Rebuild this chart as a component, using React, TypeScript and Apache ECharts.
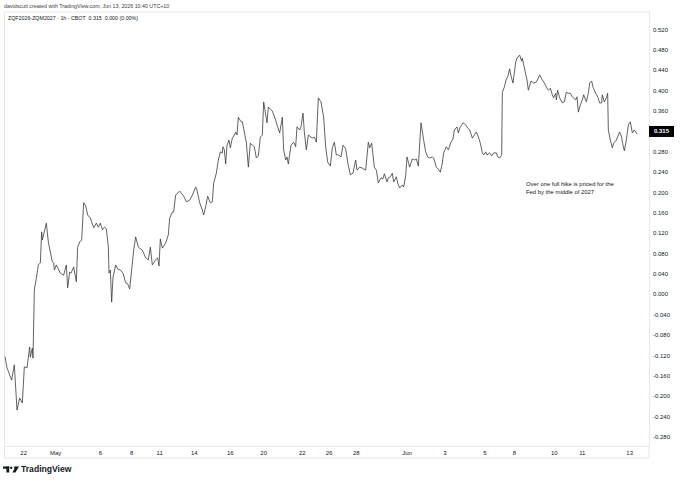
import React, { useEffect, useRef } from "react";
import * as echarts from "echarts";

// hourly bar index (trading hours, gaps removed) and the ZQF2026-ZQM2027 spread
const hourIndex = [
  0, 3, 10, 14, 18, 22, 26, 29, 33, 37, 38, 41, 42, 44, 47, 50, 53, 55, 56, 62, 65, 71, 73, 74, 77, 83, 88, 92, 94, 97,
  99, 103, 107, 109, 112, 115, 118, 121, 124, 128, 133, 137, 140, 143, 146, 149, 152, 155, 156, 158, 160, 162, 166, 169, 173, 177, 181, 184, 187,
  190, 193, 196, 200, 206, 211, 215, 218, 221, 226, 229, 231, 233, 236, 241, 245, 247, 251, 253, 256, 262, 268, 272, 277, 281, 286, 288, 292, 296, 298,
  301, 304, 308, 311, 313, 317, 320, 323, 326, 327, 329, 331, 333, 336, 338, 341, 344, 346, 348, 350, 354, 356, 359, 362, 365, 368, 371, 374, 377, 380, 383, 386, 388,
  393, 395, 401, 406, 409, 412, 416, 418, 421, 423, 425, 429, 433, 436, 438, 442, 444, 447, 449, 452, 455, 461, 464, 467, 470, 474, 478, 481, 484, 488,
  491, 494, 497, 500, 504, 507, 511, 514, 518, 522, 526, 528, 532, 536, 541, 545, 547, 550, 552, 554, 557, 560, 564, 567, 569, 573, 575, 578, 581, 583,
  587, 589, 592, 596, 598, 601, 603, 607, 611, 614, 617, 620, 624, 628, 631, 634, 637, 641, 643, 647, 650, 653, 656, 658, 662, 665, 669, 672, 674, 678,
  680, 683, 687, 691, 694, 697, 701, 704, 707, 710, 713, 716, 718, 721, 723, 727, 730, 733, 737, 739, 742, 745, 746, 749, 752, 754, 757, 759, 762, 766,
  768, 772, 775, 776, 779, 783, 785, 789, 793, 797, 800, 802, 806, 809, 813, 815, 818, 821, 823, 826, 827, 829, 832, 836, 839, 842, 845, 848, 851, 856,
  858, 860, 863, 866, 868, 872, 875, 877, 880, 882, 886, 889, 892, 895, 896, 899, 902, 904, 905, 908, 911, 913, 917, 920, 922, 925, 926, 929, 932, 935,
  938, 941, 944, 948,
];

const spread = [
  -0.122, -0.144, -0.168, -0.138, -0.227, -0.203, -0.213, -0.142, -0.144, -0.103, -0.123, -0.105, -0.125, 0.009, 0.032, 0.058, 0.062, 0.123, 0.107, 0.14,
  0.103, 0.064, 0.062, 0.048, 0.058, 0.042, 0.038, 0.058, 0.013, 0.044, 0.042, 0.054, 0.025, 0.093, 0.103, 0.107, 0.18, 0.174, 0.156, 0.15,
  0.131, 0.14, 0.132, 0.14, 0.127, 0.132, 0.129, 0.093, 0.042, 0.048, -0.015, 0.034, 0.058, 0.05, 0.048, 0.042, 0.023, 0.021, 0.011,
  0.048, 0.087, 0.113, 0.093, 0.087, 0.072, 0.068, 0.093, 0.058, 0.068, 0.072, 0.056, 0.109, 0.091, 0.101, 0.117, 0.15, 0.162, 0.162, 0.195,
  0.203, 0.193, 0.182, 0.185, 0.195, 0.211, 0.205, 0.18, 0.166, 0.156, 0.172, 0.193, 0.18, 0.182, 0.219, 0.238, 0.264, 0.28, 0.278, 0.29,
  0.284, 0.256, 0.293, 0.303, 0.288, 0.307, 0.313, 0.319, 0.313, 0.348, 0.339, 0.339, 0.319, 0.299, 0.25, 0.297, 0.293, 0.29, 0.268, 0.272,
  0.309, 0.313, 0.378,
  0.337, 0.368, 0.36, 0.342, 0.329, 0.317, 0.348, 0.284, 0.264, 0.27, 0.256, 0.293, 0.299, 0.29, 0.329, 0.323, 0.329, 0.356, 0.319, 0.284,
  0.313, 0.307, 0.309, 0.299, 0.386, 0.378, 0.348, 0.29, 0.26, 0.252, 0.288, 0.299, 0.274, 0.274, 0.27, 0.293, 0.286, 0.26, 0.235, 0.238,
  0.264, 0.244, 0.25, 0.248, 0.244, 0.299, 0.288, 0.297, 0.274, 0.25, 0.244, 0.219, 0.229, 0.227, 0.237, 0.221, 0.229, 0.231, 0.238, 0.221,
  0.231, 0.219, 0.209, 0.215, 0.211, 0.233, 0.27, 0.25, 0.266, 0.264, 0.266, 0.252, 0.337, 0.303, 0.28, 0.27, 0.268, 0.27, 0.268, 0.25,
  0.246, 0.24, 0.258, 0.278, 0.29, 0.284, 0.299, 0.305, 0.323, 0.329, 0.317, 0.329, 0.337, 0.333, 0.327, 0.323, 0.307, 0.313, 0.319, 0.309,
  0.297, 0.278, 0.274, 0.28, 0.274, 0.278, 0.272, 0.278, 0.278, 0.27, 0.268, 0.274, 0.397, 0.407, 0.423, 0.427, 0.443, 0.429, 0.415, 0.456,
  0.464, 0.47, 0.458, 0.464, 0.445, 0.421, 0.401, 0.419, 0.415, 0.417, 0.425, 0.431, 0.421, 0.415, 0.405, 0.401, 0.405, 0.392, 0.386, 0.395,
  0.382, 0.401, 0.386, 0.376, 0.378, 0.397, 0.395, 0.395, 0.388, 0.382, 0.388, 0.358, 0.372, 0.382, 0.392, 0.378, 0.395, 0.415, 0.419, 0.407,
  0.395, 0.388, 0.376, 0.376, 0.392, 0.378, 0.386, 0.395, 0.323, 0.303, 0.288, 0.297, 0.303, 0.313, 0.319, 0.309, 0.299, 0.282, 0.303, 0.333,
  0.339, 0.317, 0.323, 0.315,
];

const xTickHours = [28, 76, 143, 190, 232, 284, 338, 388, 446, 486, 527, 603, 660, 720, 764, 824, 866, 937];
const xTickLabels = ["22", "May", "6", "8", "11", "14", "16", "20", "22", "26", "28", "Jun", "3", "5", "8", "10", "11", "13"];

const yTickValues = [
  -0.28, -0.24, -0.2, -0.16, -0.12, -0.08, -0.04, 0, 0.04, 0.08, 0.12, 0.16, 0.2, 0.24, 0.28, 0.36, 0.4, 0.44, 0.48, 0.52,
];

const headerLine1 = "davidscutt created with TradingView.com, Jun 13, 2026 10:40 UTC+10";
const headerLine2 = "ZQF2026-ZQM2027 · 1h · CBOT  0.315  0.000 (0.00%)";
const noteLines = ["Over one full hike is priced for the", "Fed by the middle of 2027"];

const FONT = "'Liberation Sans', Arial, sans-serif";
const TEXT = "#131722";
const BORDER = "#e6e8ec";

export default function App() {
  const ref = useRef<HTMLDivElement>(null);

  useEffect(() => {
    document.body.style.margin = "0";
    if (!ref.current) return;
    const chart = echarts.init(ref.current, null, { renderer: "svg" });
    const last = spread[spread.length - 1];
    const data = hourIndex.map((h, i) => [h, spread[i]]);

    chart.setOption({
      animation: false,
      backgroundColor: "#ffffff",
      grid: { left: 5, right: 31, top: 12, bottom: 38, containLabel: false },
      xAxis: {
        type: "value",
        min: 0,
        max: 966,
        axisLine: { show: true, onZero: false, lineStyle: { color: BORDER, width: 1 } },
        axisTick: { show: false },
        splitLine: { show: false },
        axisLabel: {
          customValues: xTickHours,
          formatter: (v: number) => {
            const i = xTickHours.indexOf(v);
            return i >= 0 ? xTickLabels[i] : "";
          },
          color: TEXT,
          fontSize: 6,
          fontFamily: FONT,
          margin: 4,
        },
      },
      yAxis: {
        type: "value",
        position: "right",
        min: -0.2974,
        max: 0.5545,
        axisLine: { show: true, onZero: false, lineStyle: { color: BORDER, width: 1 } },
        axisTick: { show: false },
        splitLine: { show: false },
        axisLabel: {
          customValues: yTickValues,
          formatter: (v: number) => v.toFixed(3),
          color: TEXT,
          fontSize: 6,
          fontFamily: FONT,
          margin: 4,
        },
      },
      series: [
        {
          type: "line",
          data,
          symbol: "none",
          lineStyle: { color: "#3a3a3a", width: 0.8 },
          markLine: {
            silent: true,
            symbol: "none",
            lineStyle: { color: "rgba(0,0,0,0)", width: 0 },
            data: [{ yAxis: last }],
            label: {
              show: true,
              position: "end",
              distance: 0,
              formatter: () => last.toFixed(3),
              backgroundColor: "#000000",
              color: "#ffffff",
              fontSize: 6,
              fontWeight: "bold",
              fontFamily: FONT,
              padding: [3, 5, 2, 5],
            },
          },
        },
      ],
      graphic: [
        { type: "line", shape: { x1: 5, y1: 12, x2: 649, y2: 12 }, style: { stroke: BORDER, lineWidth: 1 }, silent: true },
        { type: "line", shape: { x1: 4.5, y1: 12, x2: 4.5, y2: 458 }, style: { stroke: BORDER, lineWidth: 1 }, silent: true },
        { type: "line", shape: { x1: 649, y1: 446, x2: 649, y2: 458 }, style: { stroke: BORDER, lineWidth: 1 }, silent: true },
        { type: "line", shape: { x1: 5, y1: 458, x2: 649, y2: 458 }, style: { stroke: BORDER, lineWidth: 1 }, silent: true },
        {
          type: "text",
          left: 4,
          top: 3,
          style: { text: headerLine1, fill: "#3d3d3d", fontSize: 5.3, fontFamily: FONT },
        },
        {
          type: "text",
          left: 8,
          top: 15,
          style: { text: headerLine2, fill: TEXT, fontSize: 5.3, fontFamily: FONT },
        },
        {
          type: "text",
          left: 526,
          top: 179.5,
          style: { text: noteLines.join("\n"), fill: TEXT, fontSize: 5.9, lineHeight: 8.5, fontFamily: FONT },
        },
        {
          type: "group",
          left: 3,
          top: 466.5,
          children: [
            { type: "rect", shape: { x: 0, y: 0, width: 6.2, height: 2.2 }, style: { fill: TEXT } },
            { type: "rect", shape: { x: 3.4, y: 0, width: 2.8, height: 6 }, style: { fill: TEXT } },
            { type: "circle", shape: { cx: 8.2, cy: 1.2, r: 1.2 }, style: { fill: TEXT } },
            { type: "polygon", shape: { points: [[11, 0], [16, 0], [12.4, 6], [9.4, 6], [11.4, 2.4]] }, style: { fill: TEXT } },
          ],
        },
        {
          type: "text",
          left: 21,
          top: 464.5,
          style: { text: "TradingView", fill: TEXT, fontSize: 8.6, fontWeight: "bold", fontFamily: FONT },
        },
      ],
    });

    return () => chart.dispose();
  }, []);

  return <div ref={ref} style={{ width: 680, height: 484 }} />;
}
